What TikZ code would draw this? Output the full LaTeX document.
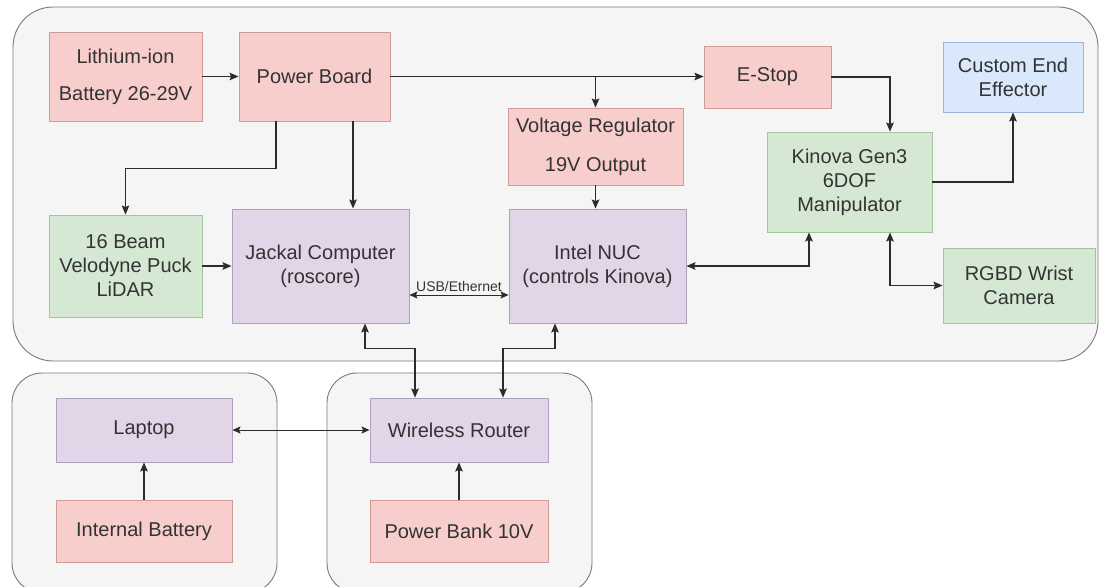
\documentclass[tikz,border=0pt]{standalone}
\usepackage{fontspec}
\setmainfont{Liberation Sans}
\usetikzlibrary{arrows.meta,calc}
\definecolor{redfill}{HTML}{F8CECC}
\definecolor{redline}{HTML}{CF9A97}
\definecolor{greenfill}{HTML}{D5E8D4}
\definecolor{greenline}{HTML}{A5C39B}
\definecolor{purplefill}{HTML}{E1D5E7}
\definecolor{purpleline}{HTML}{B09FBE}
\definecolor{bluefill}{HTML}{DAE8FC}
\definecolor{blueline}{HTML}{9FB5D6}
\definecolor{contfill}{HTML}{F5F5F5}
\definecolor{contline}{HTML}{7A7A7A}
\definecolor{txt}{HTML}{333333}
\definecolor{wire}{HTML}{2B2B2B}
\begin{document}
\begin{tikzpicture}[x=1pt,y=-1pt,
  font=\fontsize{20}{24}\selectfont,
  box/.style={draw, line width=0.9pt, inner sep=0pt, align=center, text=txt},
  redbox/.style={box, fill=redfill, draw=redline},
  greenbox/.style={box, fill=greenfill, draw=greenline},
  purplebox/.style={box, fill=purplefill, draw=purpleline},
  bluebox/.style={box, fill=bluefill, draw=blueline},
  container/.style={fill=contfill, draw=contline, line width=0.9pt},
  arr/.style={draw=wire, line width=1.5pt, -{Stealth[length=9pt,width=7.5pt,inset=1.5pt]}},
  arrb/.style={draw=wire, line width=1.5pt, {Stealth[length=9pt,width=7.5pt,inset=1.5pt]}-{Stealth[length=9pt,width=7.5pt,inset=1.5pt]}},
  arrthin/.style={draw=wire, line width=1pt, {Stealth[length=8pt,width=7pt,inset=1.5pt]}-{Stealth[length=8pt,width=7pt,inset=1.5pt]}}
]
\useasboundingbox (0,0) rectangle (1102,586);
\clip (0,0) rectangle (1102,586);
\fill[white] (0,0) rectangle (1102,586);

% containers
\draw[container, rounded corners=40pt] (13,7) rectangle (1098,361);
\draw[container, rounded corners=30pt] (12,373) rectangle (277,593);
\draw[container, rounded corners=30pt] (327,373) rectangle (592,593);

% nodes
\node[redbox, minimum width=153pt, minimum height=89pt] (li) at (125.5,76.5) {Lithium-ion\\[13pt]Battery 26-29V};
\node[redbox, minimum width=151pt, minimum height=89pt] (pb) at (314.5,76.5) {Power Board};
\node[redbox, minimum width=127pt, minimum height=62pt] (es) at (767.5,77) {E-Stop};
\node[redbox, minimum width=175pt, minimum height=77pt] (vr) at (595.5,146.5) {Voltage Regulator\\[15pt]19V Output};
\node[bluebox, minimum width=140pt, minimum height=70pt] (cee) at (1013,77) {Custom End\\Effector};
\node[greenbox, minimum width=165pt, minimum height=100pt] (kin) at (849.5,182) {Kinova Gen3\\6DOF\\Manipulator};
\node[greenbox, minimum width=153pt, minimum height=102pt] (lid) at (125.5,266) {16 Beam\\Velodyne Puck\\LiDAR};
\node[purplebox, minimum width=177pt, minimum height=114pt] (jac) at (320.5,266) {Jackal Computer\\(roscore)};
\node[purplebox, minimum width=177pt, minimum height=114pt] (nuc) at (597.5,266) {Intel NUC\\(controls Kinova)};
\node[greenbox, minimum width=152pt, minimum height=75pt] (rgbd) at (1019,285.5) {RGBD Wrist\\Camera};
\node[purplebox, minimum width=176pt, minimum height=64pt] (lap) at (144,430) {Laptop};
\node[redbox, minimum width=176pt, minimum height=62pt] (ib) at (144,531) {Internal Battery};
\node[purplebox, minimum width=178pt, minimum height=64pt] (rt) at (459,430) {Wireless Router};
\node[redbox, minimum width=178pt, minimum height=62pt] (pbk) at (459,531) {Power Bank 10V};

% helper coordinates
\coordinate (br) at (vr.north |- pb.east);
\coordinate (pbl) at ($(pb.south)+(-38.5,0)$);
\coordinate (pbr) at ($(pb.south)+(38.5,0)$);
\coordinate (esk) at ($(kin.north)+(40.5,0)$);
\coordinate (kinl) at ($(kin.south)+(-40.5,0)$);
\coordinate (kinr) at ($(kin.south)+(40.5,0)$);
\coordinate (jacu) at ($(jac.east)+(0,29)$);
\coordinate (nucu) at ($(nuc.west)+(0,29)$);
\coordinate (jacb) at ($(jac.south)+(44.5,0)$);
\coordinate (nucb) at ($(nuc.south)+(-42.5,0)$);
\coordinate (rtl) at ($(rt.north)+(-44,0)$);
\coordinate (rtr) at ($(rt.north)+(44,0)$);

% connectors
\draw[arr] (li.east) -- (li.east -| pb.west);
\draw[arr] (pb.east) -- (pb.east -| es.west);
\draw[arr] (br) -- (vr.north);
\draw[arr] (vr.south) -- (vr.south |- nuc.north);
\draw[arr] (es.east) -| (esk);
\draw[arr] (kin.east) -| (cee.south);
\draw[arr] (pbl) -- ++(0,47) -| (lid.north);
\draw[arr] (pbr) -- (pbr |- jac.north);
\draw[arr] (lid.east) -- (lid.east -| jac.west);
\draw[arrthin] (jacu) -- node[above=2pt, font=\fontsize{14}{16}\selectfont, text=txt, inner sep=1pt] {USB/Ethernet} (nucu);
\draw[arrb] (nuc.east) -| (kinl);
\draw[arrb] (kinr) |- (rgbd.west);
\draw[arrb] (jacb) -- ++(0,25) -| (rtl);
\draw[arrb] (nucb) -- ++(0,25) -| (rtr);
\draw[arrthin] (lap.east) -- (rt.west);
\draw[arr] (ib.north) -- (lap.south);
\draw[arr] (pbk.north) -- (rt.south);
\end{tikzpicture}
\end{document}
